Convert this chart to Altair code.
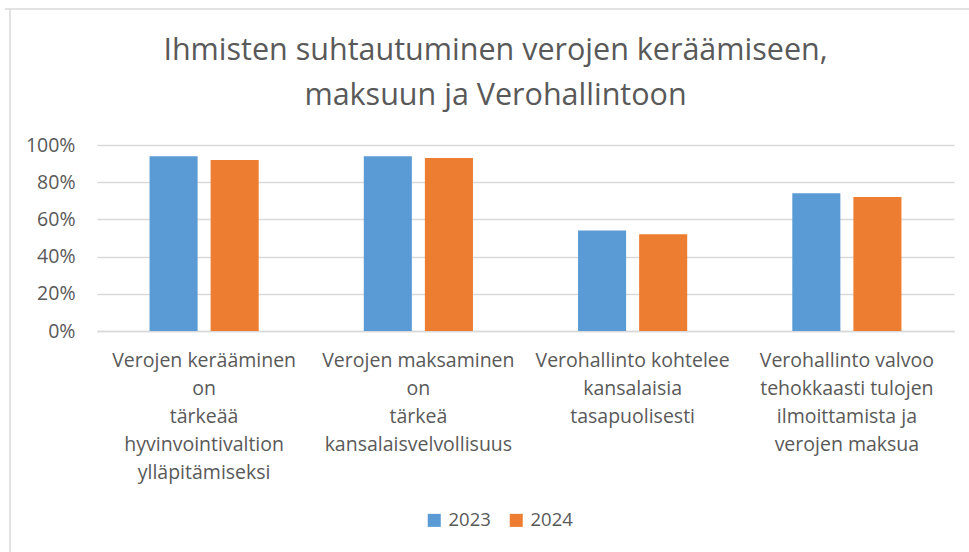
import altair as alt
import pandas as pd

categories = [
    "Verojen kerääminen\non\ntärkeää\nhyvinvointivaltion\nylläpitämiseksi",
    "Verojen maksaminen\non\ntärkeä\nkansalaisvelvollisuus",
    "Verohallinto kohtelee\nkansalaisia\ntasapuolisesti",
    "Verohallinto valvoo\ntehokkaasti tulojen\nilmoittamista ja\nverojen maksua",
]
years = ["2023", "2024"]
values_2023 = [0.94, 0.94, 0.54, 0.74]
values_2024 = [0.92, 0.93, 0.52, 0.72]
title_lines = ["Ihmisten suhtautuminen verojen keräämiseen,", "maksuun ja Verohallintoon"]

rows = []
for c, a, b in zip(categories, values_2023, values_2024):
    rows.append({"cat": c, "year": "2023", "value": a})
    rows.append({"cat": c, "year": "2024", "value": b})
df = pd.DataFrame(rows)

FONT = "Open Sans"
GRAY = "#595959"
GRID = "#d9d9d9"

bars = alt.Chart(df).mark_bar().encode(
    x=alt.X("cat:N", sort=categories, title=None,
            scale=alt.Scale(paddingInner=0, paddingOuter=0),
            axis=alt.Axis(labelAngle=0, labelExpr="split(datum.label, '\\n')",
                          labelLineHeight=28, labelFontSize=19.5, labelFont=FONT,
                          labelColor=GRAY, labelPadding=20, labelLimit=400,
                          ticks=False, domain=True, domainColor=GRID, domainWidth=1.5,
                          labelBaseline="top")),
    xOffset=alt.XOffset("year:N", sort=years,
                        scale=alt.Scale(paddingInner=0.213, paddingOuter=0.86)),
    y=alt.Y("value:Q", title=None,
            scale=alt.Scale(domain=[0, 1]),
            axis=alt.Axis(values=[0, 0.2, 0.4, 0.6, 0.8, 1.0], format=".0%",
                          labelFontSize=19.5, labelFont=FONT, labelColor=GRAY,
                          labelPadding=22, ticks=False, domain=False,
                          gridColor=GRID, gridWidth=1.5)),
    color=alt.Color("year:N", sort=years,
                    scale=alt.Scale(domain=years, range=["#5B9BD5", "#ED7D31"]),
                    legend=alt.Legend(title=None, orient="none", direction="horizontal",
                                      legendX=328, legendY=366, symbolType="square",
                                      symbolSize=170, symbolStrokeWidth=0,
                                      labelFontSize=18.5, labelFont=FONT, labelColor=GRAY,
                                      columnPadding=16, labelOffset=5)),
)

border_df = pd.DataFrame({"k": [1]})
left_border = alt.Chart(border_df).mark_rule(color=GRID, strokeWidth=1.5).encode(
    x=alt.value(-87), y=alt.value(-136), y2=alt.value(420))
top_border = alt.Chart(border_df).mark_rule(color=GRID, strokeWidth=1.5).encode(
    x=alt.value(-92), x2=alt.value(880), y=alt.value(-136))

chart = alt.layer(left_border, top_border, bars).properties(
    width=857, height=186,
    autosize=alt.AutoSizeParams(type="none"),
    padding={"left": 97, "top": 145, "right": 15, "bottom": 221},
    title=alt.Title(title_lines, font=FONT, fontSize=30.5, fontWeight="normal",
                    color=GRAY, anchor="middle", lineHeight=45, offset=-103, dx=-30),
).configure_view(stroke=None)

chart.save("out.html", embed_options={"renderer": "svg", "actions": False})
